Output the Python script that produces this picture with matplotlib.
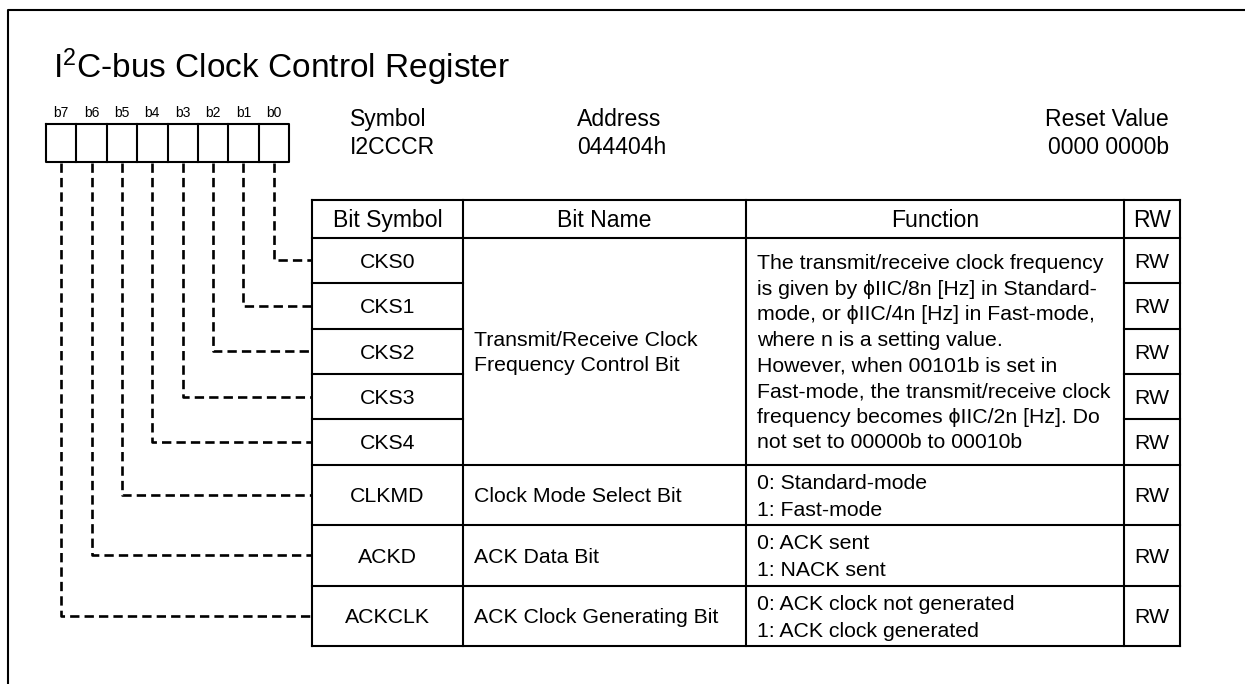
import matplotlib
matplotlib.use("Agg")
import matplotlib.pyplot as plt

plt.rcParams['font.family'] = ['Liberation Sans', 'DejaVu Sans']
plt.rcParams['mathtext.fontset'] = 'custom'
plt.rcParams['mathtext.rm'] = 'Liberation Sans'
plt.rcParams['mathtext.it'] = 'Liberation Sans:italic'
plt.rcParams['mathtext.bf'] = 'Liberation Sans:bold'

# ---------------- data ----------------
title = r"I$^{\mathrm{2}}$C-bus Clock Control Register"
bit_labels = ["b7", "b6", "b5", "b4", "b3", "b2", "b1", "b0"]
info_headers = ["Symbol", "Address", "Reset Value"]
info_values = ["I2CCCR", "044404h", "0000 0000b"]
col_headers = ["Bit Symbol", "Bit Name", "Function", "RW"]
symbols = ["CKS0", "CKS1", "CKS2", "CKS3", "CKS4", "CLKMD", "ACKD", "ACKCLK"]
symbol_bits = [0, 1, 2, 3, 4, 5, 6, 7]   # bit number feeding each row
rw = ["RW", "RW", "RW", "RW", "RW", "RW", "RW", "RW"]
cks_name = ["Transmit/Receive Clock", "Frequency Control Bit"]
cks_function = [
    "The transmit/receive clock frequency",
    "is given by \u03d5IIC/8n [Hz] in Standard-",
    "mode, or \u03d5IIC/4n [Hz] in Fast-mode,",
    "where n is a setting value.",
    "However, when 00101b is set in",
    "Fast-mode, the transmit/receive clock",
    "frequency becomes \u03d5IIC/2n [Hz]. Do",
    "not set to 00000b to 00010b",
]
other_names = ["Clock Mode Select Bit", "ACK Data Bit", "ACK Clock Generating Bit"]
other_functions = [
    ["0: Standard-mode", "1: Fast-mode"],
    ["0: ACK sent", "1: NACK sent"],
    ["0: ACK clock not generated", "1: ACK clock generated"],
]

# ---------------- layout (pixels) ----------------
W, H = 1245, 684
fig = plt.figure(figsize=(W / 100, H / 100), dpi=100)
ax = fig.add_axes([0, 0, 1, 1])
ax.set_xlim(0, W)
ax.set_ylim(H, 0)
ax.axis("off")

LW = 1.5
BODY = 15.3
HEAD = 16.6
PX = 100 / 72.0

# outer frame (extends beyond the right/bottom edges)
ax.plot([8, 8, W + 20], [H + 20, 10, 10], color="black", lw=LW, clip_on=True)

# title
ax.text(53, 78, title, fontsize=24, ha="left", va="baseline")

# bit boxes
box_left, box_right, box_top, box_bot = 46, 289, 123.5, 161.5
cw = (box_right - box_left) / len(bit_labels)
ax.plot([box_left, box_right, box_right, box_left, box_left],
        [box_top, box_top, box_bot, box_bot, box_top], color="black", lw=LW)
for i, lab in enumerate(bit_labels):
    if i > 0:
        x = box_left + i * cw
        ax.plot([x, x], [box_top, box_bot], color="black", lw=LW)
    ax.text(box_left + (i + 0.5) * cw, 117, lab, fontsize=10, ha="center", va="baseline")

# info texts
ax.text(350, 126, info_headers[0], fontsize=HEAD, ha="left", va="baseline")
ax.text(350, 154.5, info_values[0], fontsize=HEAD, ha="left", va="baseline")
ax.text(577, 126, info_headers[1], fontsize=HEAD, ha="left", va="baseline")
ax.text(577, 154.5, info_values[1], fontsize=HEAD, ha="left", va="baseline")
ax.text(1169, 126, info_headers[2], fontsize=HEAD, ha="right", va="baseline")
ax.text(1169, 154.5, info_values[2], fontsize=HEAD, ha="right", va="baseline")

# table geometry
cols = [312, 463, 746, 1124, 1180]
rows = [199.5, 237.5, 283, 328.5, 374, 419, 464.5, 525, 585.5, 646]


def hline(y, x0, x1):
    ax.plot([x0, x1], [y, y], color="black", lw=LW, solid_capstyle="projecting")


def vline(x, y0, y1):
    ax.plot([x, x], [y0, y1], color="black", lw=LW, solid_capstyle="projecting")


def baseline(yc, size):
    return yc + 0.36 * size * PX


# outer table
hline(rows[0], cols[0], cols[-1])
hline(rows[-1], cols[0], cols[-1])
for x in cols:
    vline(x, rows[0], rows[-1])
hline(rows[1], cols[0], cols[-1])
# CKS rows: symbol and RW columns divided, name/function merged
for r in range(2, 6):
    hline(rows[r], cols[0], cols[1])
    hline(rows[r], cols[3], cols[4])
for r in range(6, 9):
    hline(rows[r], cols[0], cols[-1])

# headers
hc = (rows[0] + rows[1]) / 2
for j, h in enumerate(col_headers):
    ax.text((cols[j] + cols[j + 1]) / 2, baseline(hc, HEAD), h, fontsize=HEAD,
            ha="center", va="baseline")

# symbols and RW
centers = [(rows[k + 1] + rows[k + 2]) / 2 for k in range(len(symbols))]
for k, (s, r) in enumerate(zip(symbols, rw)):
    yb = baseline(centers[k], BODY)
    ax.text((cols[0] + cols[1]) / 2, yb, s, fontsize=BODY, ha="center", va="baseline")
    ax.text((cols[3] + cols[4]) / 2, yb, r, fontsize=BODY, ha="center", va="baseline")

# merged CKS name / function
LS = 25.6
mc = (rows[1] + rows[6]) / 2
b0 = baseline(mc, BODY) - LS * (len(cks_name) - 1) / 2
for i, line in enumerate(cks_name):
    ax.text(474, b0 + i * LS, line, fontsize=BODY, ha="left", va="baseline")
b0 = baseline(mc, BODY) - LS * (len(cks_function) - 1) / 2
for i, line in enumerate(cks_function):
    ax.text(757, b0 + i * LS, line, fontsize=BODY, ha="left", va="baseline")

# other rows
LS2 = 27
for k, (nm, fn) in enumerate(zip(other_names, other_functions)):
    yc = centers[5 + k]
    ax.text(474, baseline(yc, BODY), nm, fontsize=BODY, ha="left", va="baseline")
    b0 = baseline(yc, BODY) - LS2 * (len(fn) - 1) / 2
    for i, line in enumerate(fn):
        ax.text(757, b0 + i * LS2, line, fontsize=BODY, ha="left", va="baseline")

# dashed connectors
dash = (0, (5.3 / LW, 2.9 / LW))
for k, bit in enumerate(symbol_bits):
    idx = len(bit_labels) - 1 - bit
    x = box_left + (idx + 0.5) * cw
    y = centers[k]
    ax.plot([x, x, cols[0]], [box_bot + 1, y, y], color="black", lw=LW + 0.4,
            linestyle=dash, dash_capstyle="butt", solid_joinstyle="miter")

fig.savefig("out.png", dpi=100)
